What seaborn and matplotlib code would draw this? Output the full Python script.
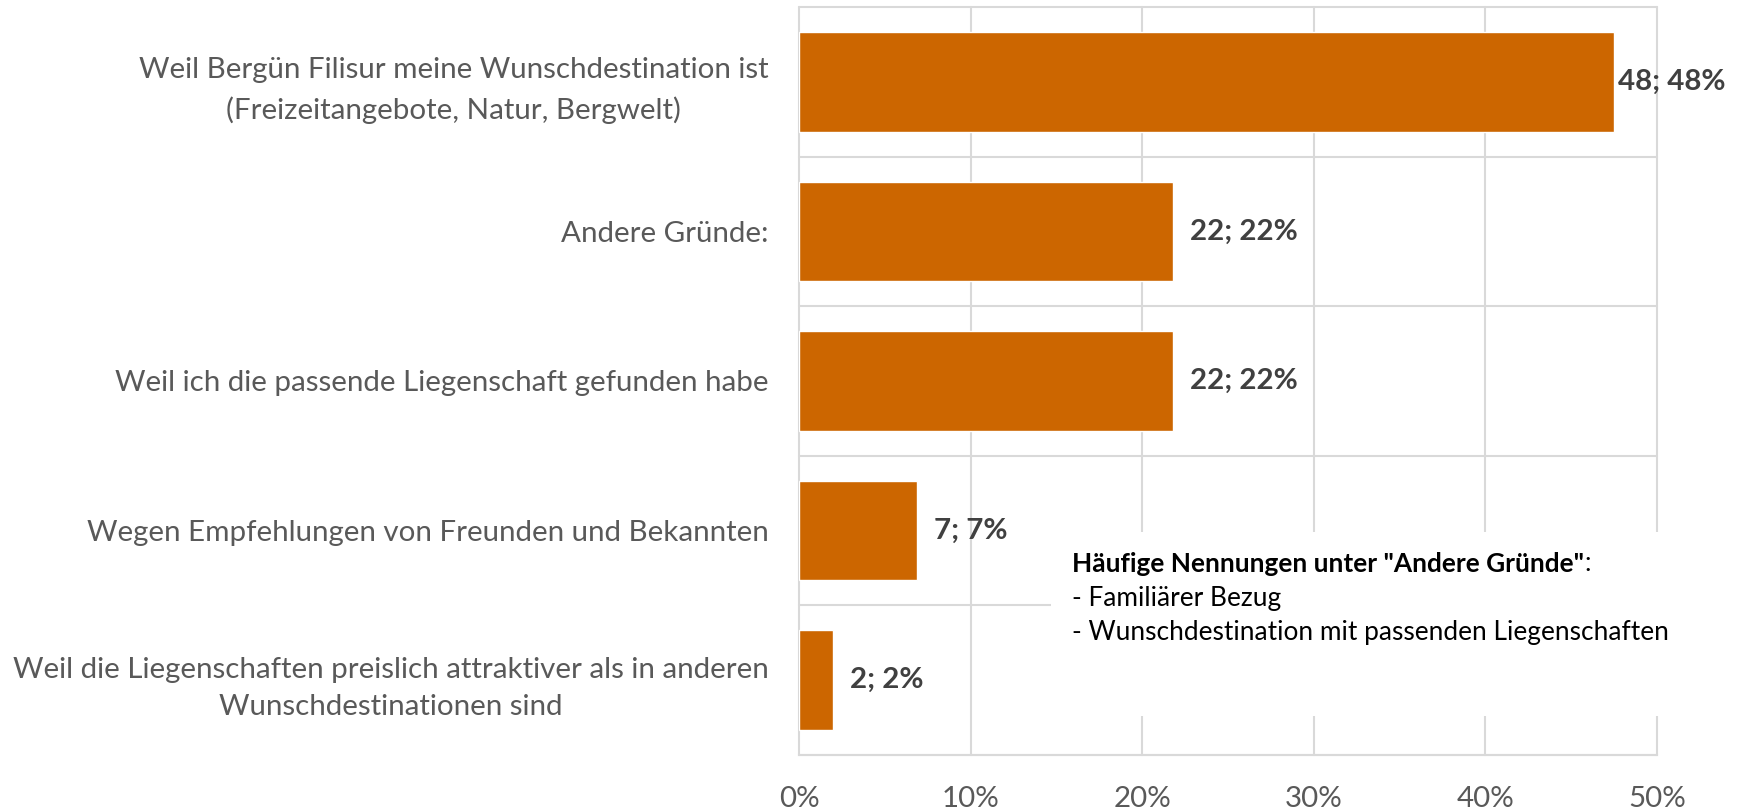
import numpy as np
import pandas as pd
import matplotlib
matplotlib.use("Agg")
import matplotlib.pyplot as plt
import seaborn as sns
from matplotlib.patches import Rectangle

# ---------------- data ----------------
categories = [
    "Weil Bergün Filisur meine Wunschdestination ist\n(Freizeitangebote, Natur, Bergwelt)",
    "Andere Gründe:",
    "Weil ich die passende Liegenschaft gefunden habe",
    "Wegen Empfehlungen von Freunden und Bekannten",
    "Weil die Liegenschaften preislich attraktiver als in anderen\nWunschdestinationen sind",
]
counts = [48, 22, 22, 7, 2]
percent = [47.5, 21.8, 21.8, 6.9, 2.0]
x_ticks = [0, 10, 20, 30, 40, 50]
x_tick_labels = ["0%", "10%", "20%", "30%", "40%", "50%"]
note_title = 'Häufige Nennungen unter "Andere Gründe"'
note_items = ["- Familiärer Bezug", "- Wunschdestination mit passenden Liegenschaften"]

# ---------------- style ----------------
sns.set_theme(style="white")
FONT = ["Lato", "DejaVu Sans"]
plt.rcParams["font.family"] = FONT
BAR = "#CC6600"
GRID = "#D9D9D9"
LABEL = "#595959"
VALUE = "#404040"

W, H = 1742, 810
fig = plt.figure(figsize=(W / 100, H / 100), dpi=100)
ax_l, ax_r, ax_t, ax_b = 799, 1657, 7, 755
ax = fig.add_axes([ax_l / W, 1 - ax_b / H, (ax_r - ax_l) / W, (ax_b - ax_t) / H])

# fit font sizes so reference line widths are matched
renderer = fig.canvas.get_renderer()
probe = fig.text(0, 0, "Weil die Liegenschaften preislich attraktiver als in anderen", fontsize=20)
wpx = probe.get_window_extent(renderer).width
probe.remove()
fs = 20 * 757 / wpx
probe = fig.text(0, 0, note_items[1], fontsize=20)
wpx = probe.get_window_extent(renderer).width
probe.remove()
fs_note = 20 * 596 / wpx

df = pd.DataFrame({"cat": categories, "pct": percent})
sns.barplot(data=df, y="cat", x="pct", color=BAR, orient="h", width=0.666,
            saturation=1, ax=ax, zorder=2)

ax.set_xlim(0, 50)
ax.set_ylim(len(categories) - 0.5, -0.5)
ax.set_xticks(x_ticks)
ax.set_xticklabels(x_tick_labels, fontsize=fs, color=LABEL)
ax.set_yticks(range(len(categories)))
ax.set_yticklabels(categories, fontsize=fs, color=LABEL, linespacing=1.55,
                   multialignment="center")
ax.set_yticks(np.arange(-0.5, len(categories)), minor=True)
ax.tick_params(axis="y", which="both", length=0, pad=22)
ax.tick_params(axis="x", length=0, pad=22)
ax.set_xlabel("")
ax.set_ylabel("")

ax.grid(axis="x", which="major", color=GRID, linewidth=1.5)
ax.grid(axis="y", which="minor", color=GRID, linewidth=1.5)
ax.grid(axis="y", which="major", visible=False)
ax.set_axisbelow(True)
for tk in ax.xaxis.get_major_ticks() + ax.yaxis.get_minor_ticks():
    tk.gridline.set_clip_on(False)
for s in ["left", "right", "top"]:
    ax.spines[s].set_visible(False)
ax.spines["bottom"].set_color(GRID)
ax.spines["bottom"].set_linewidth(1.5)

# data labels
pads = [3, 12, 12, 12, 12]
for i, (c, p) in enumerate(zip(counts, percent)):
    ax.annotate(f"{c}; {round(p):.0f}%", xy=(p, i), xytext=(pads[i], 0),
                textcoords="offset points", ha="left", va="center",
                fontsize=fs, fontweight="bold", color=VALUE, zorder=5)

# note box (white, hides grid lines)
bx0, bx1, by0, by1 = 1051, 1742, 532, 716
ax.add_patch(Rectangle((bx0 / W, 1 - by1 / H), (bx1 - bx0) / W, (by1 - by0) / H,
                       transform=fig.transFigure, facecolor="white",
                       edgecolor="none", zorder=1, clip_on=False))
tx = 1072 / W
t = fig.text(tx, 1 - 572 / H, note_title, fontsize=fs_note, fontweight="bold",
             color="black", ha="left", va="baseline")
ax.annotate(":", xy=(1, 0), xycoords=t, ha="left", va="bottom",
            fontsize=fs_note, color="black", annotation_clip=False)
for k, item in enumerate(note_items):
    fig.text(tx, 1 - (606 + 34 * k) / H, item, fontsize=fs_note, color="black",
             ha="left", va="baseline")

fig.savefig("out.png", dpi=100, facecolor="white")
